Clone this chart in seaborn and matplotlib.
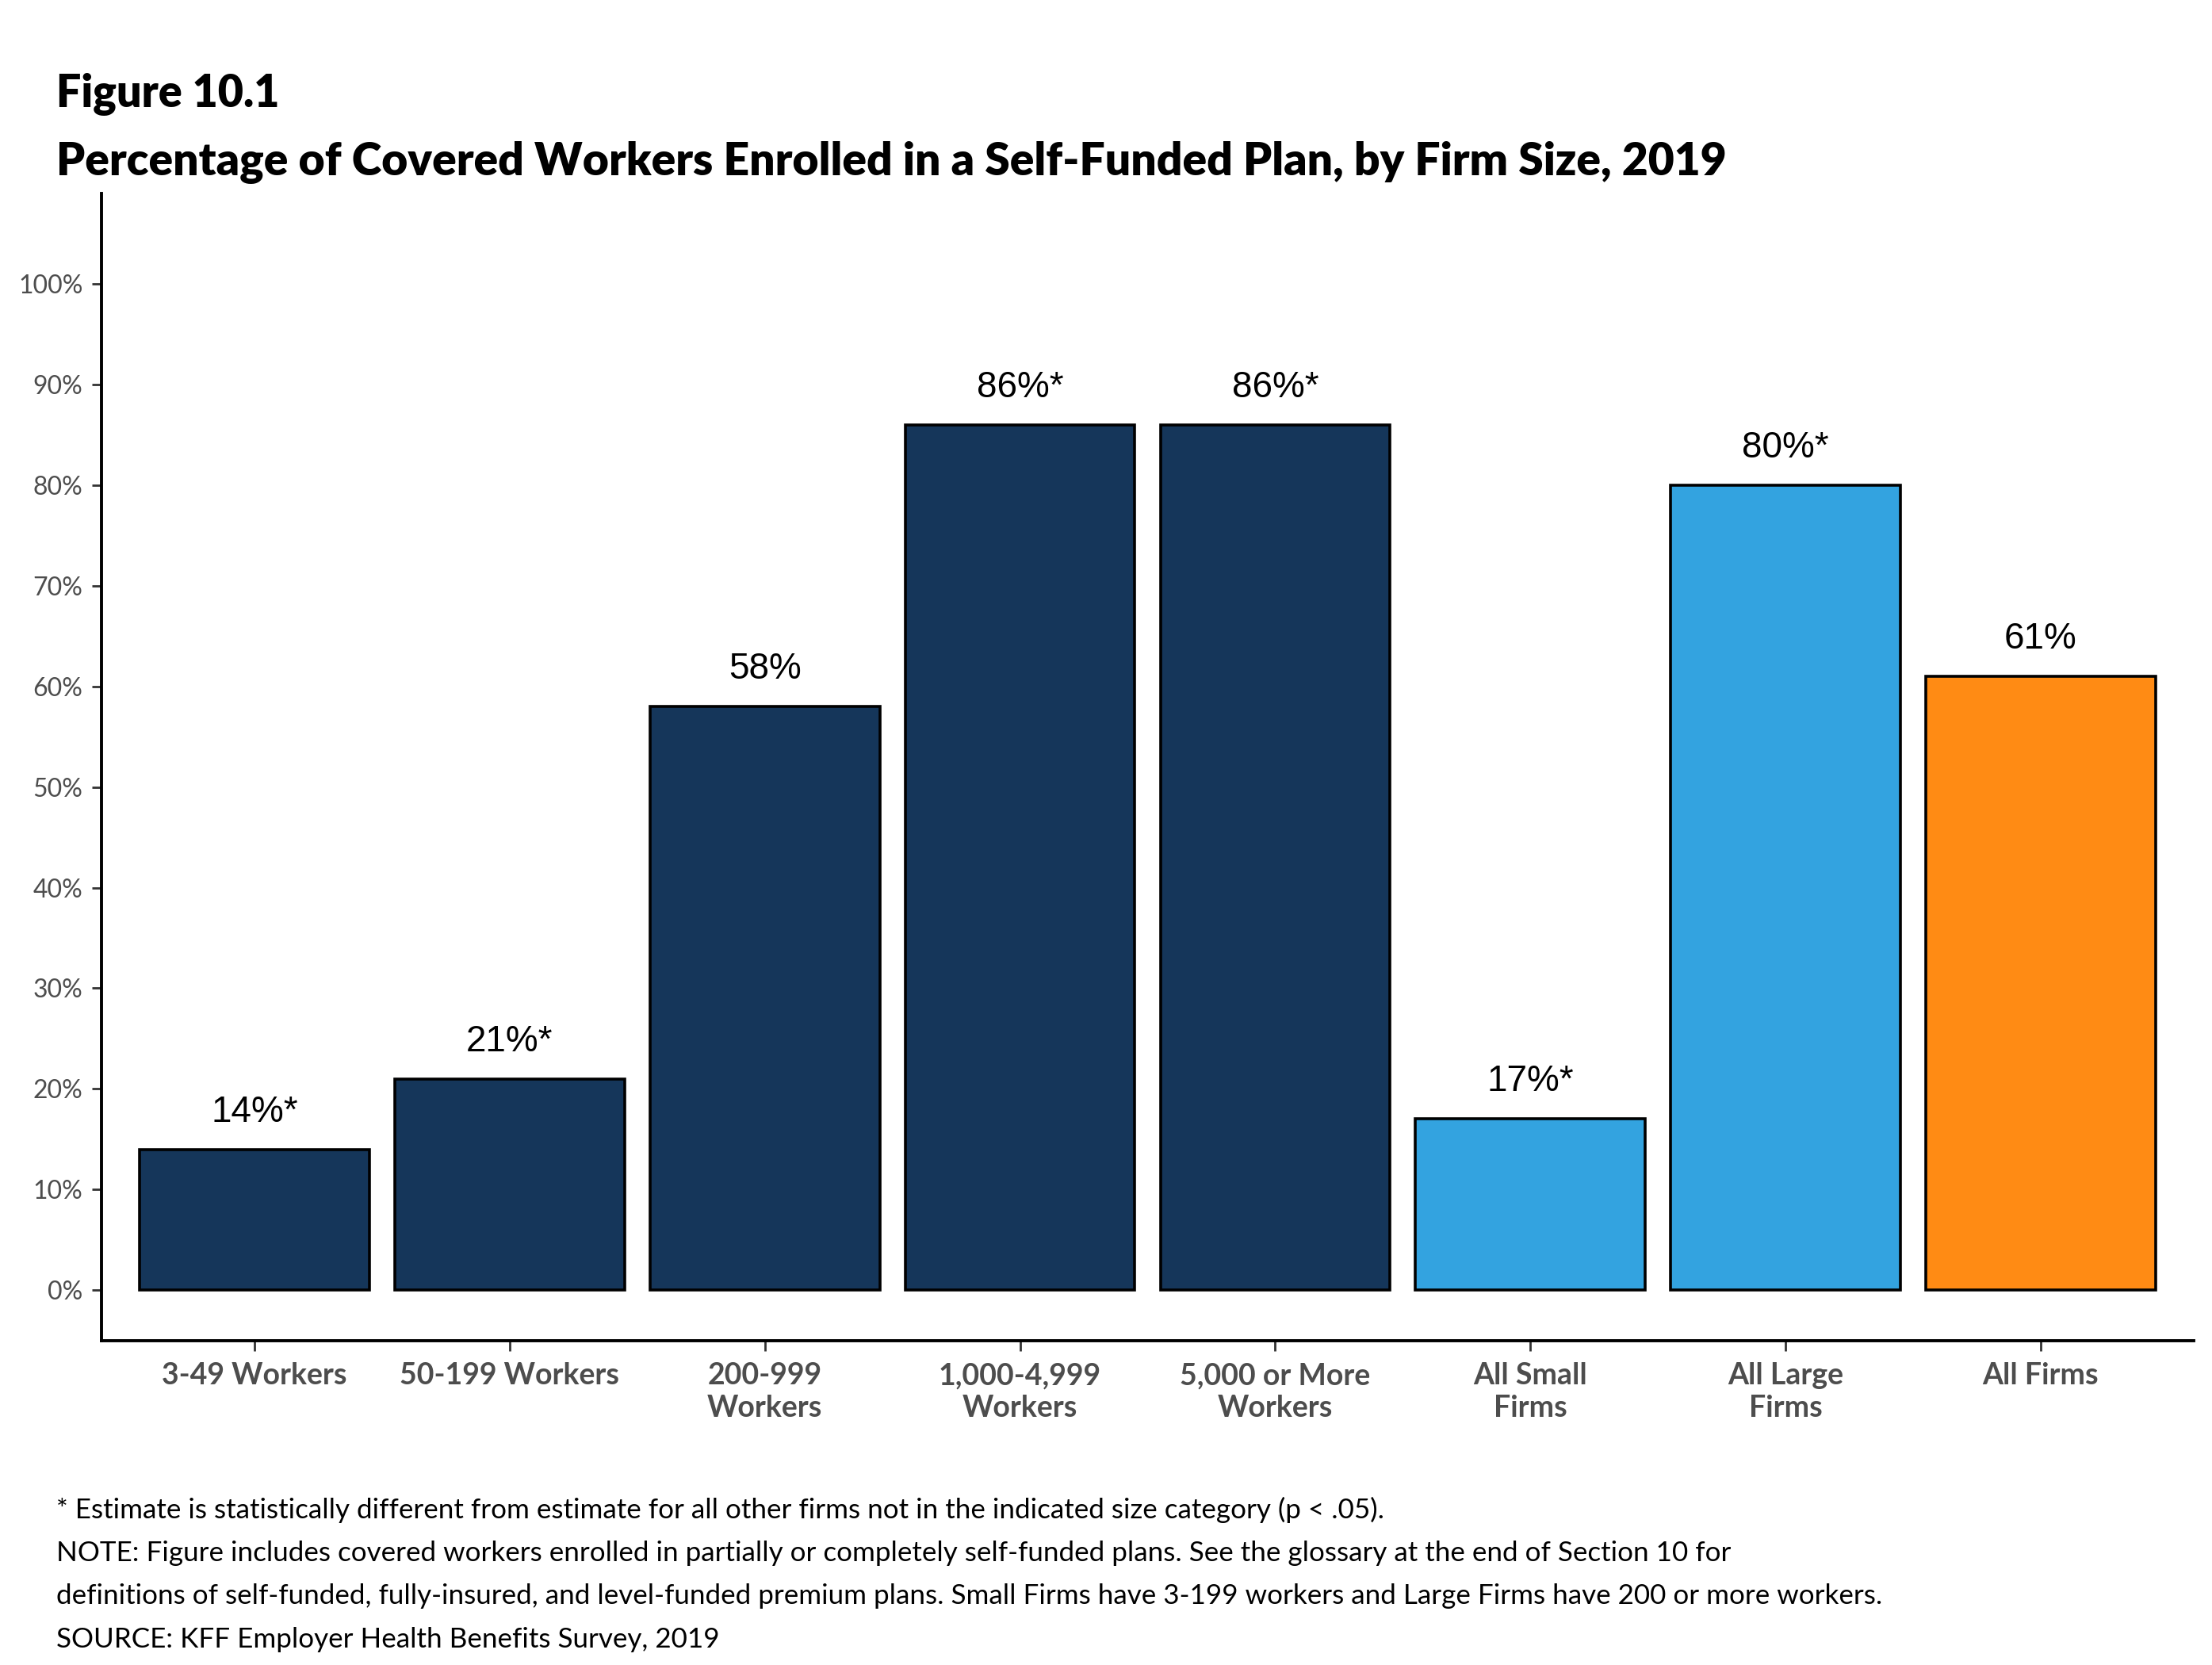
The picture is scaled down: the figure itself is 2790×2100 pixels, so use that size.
import matplotlib
matplotlib.use("Agg")
import matplotlib.pyplot as plt
import seaborn as sns
import pandas as pd

# data
categories = ["3-49 Workers", "50-199 Workers", "200-999\nWorkers", "1,000-4,999\nWorkers",
              "5,000 or More\nWorkers", "All Small\nFirms", "All Large\nFirms", "All Firms"]
values = [14, 21, 58, 86, 86, 17, 80, 61]
labels = ["14%*", "21%*", "58%", "86%*", "86%*", "17%*", "80%*", "61%"]
bar_colors = ["#15365A", "#15365A", "#15365A", "#15365A", "#15365A", "#33A3E0", "#33A3E0", "#FF8B14"]
y_ticks = list(range(0, 101, 10))

footnotes = [
    "* Estimate is statistically different from estimate for all other firms not in the indicated size category (p < .05).",
    "NOTE: Figure includes covered workers enrolled in partially or completely self-funded plans. See the glossary at the end of Section 10 for",
    "definitions of self-funded, fully-insured, and level-funded premium plans. Small Firms have 3-199 workers and Large Firms have 200 or more workers.",
    "SOURCE: KFF Employer Health Benefits Survey, 2019",
]

sns.set_style("white")
plt.rcParams['font.family'] = ['Lato', 'DejaVu Sans']

df = pd.DataFrame({"cat": categories, "val": values})

fig = plt.figure(figsize=(13.95, 10.5), dpi=200)
ax = fig.add_axes([0.0459, 0.1949, 0.9458, 0.689])

sns.barplot(data=df, x="cat", y="val", hue="cat", palette=bar_colors, legend=False,
            width=0.9, edgecolor="black", linewidth=1.3, saturation=1, ax=ax)

for i, (v, lab) in enumerate(zip(values, labels)):
    ax.annotate(lab, (i, v), xytext=(0, 9), textcoords="offset points",
                ha="center", va="bottom", fontsize=16.5, family="Liberation Sans", color="black")

ax.set_xlim(-0.6, 7.6)
ax.set_ylim(-5, 109)
ax.set_yticks(y_ticks)
ax.set_yticklabels([f"{t}%" for t in y_ticks], fontsize=11.5, color="#4d4d4d")
ax.set_xticks(range(len(categories)))
ax.set_xticklabels(categories, fontsize=13.5, fontweight="bold", color="#4d4d4d", linespacing=1.22)
ax.set_xlabel("")
ax.set_ylabel("")

for s in ["top", "right"]:
    ax.spines[s].set_visible(False)
for s in ["left", "bottom"]:
    ax.spines[s].set_linewidth(1.4)
    ax.spines[s].set_color("black")
ax.tick_params(axis="both", which="both", length=4.5, width=1, color="#333333",
               left=True, bottom=True)
ax.tick_params(axis="x", pad=5.5)
ax.tick_params(axis="y", pad=4)

fig.text(0.0255, 0.9435, "Figure 10.1", fontsize=20, fontweight="heavy", va="center", color="black")
fig.text(0.0255, 0.9025, "Percentage of Covered Workers Enrolled in a Self-Funded Plan, by Firm Size, 2019",
         fontsize=20.5, fontweight="heavy", va="center", color="black")

for k, line in enumerate(footnotes):
    fig.text(0.0255, 0.0932 - k * 0.026, line, fontsize=12.6, va="center", color="black")

fig.savefig("out.png", dpi=200)
